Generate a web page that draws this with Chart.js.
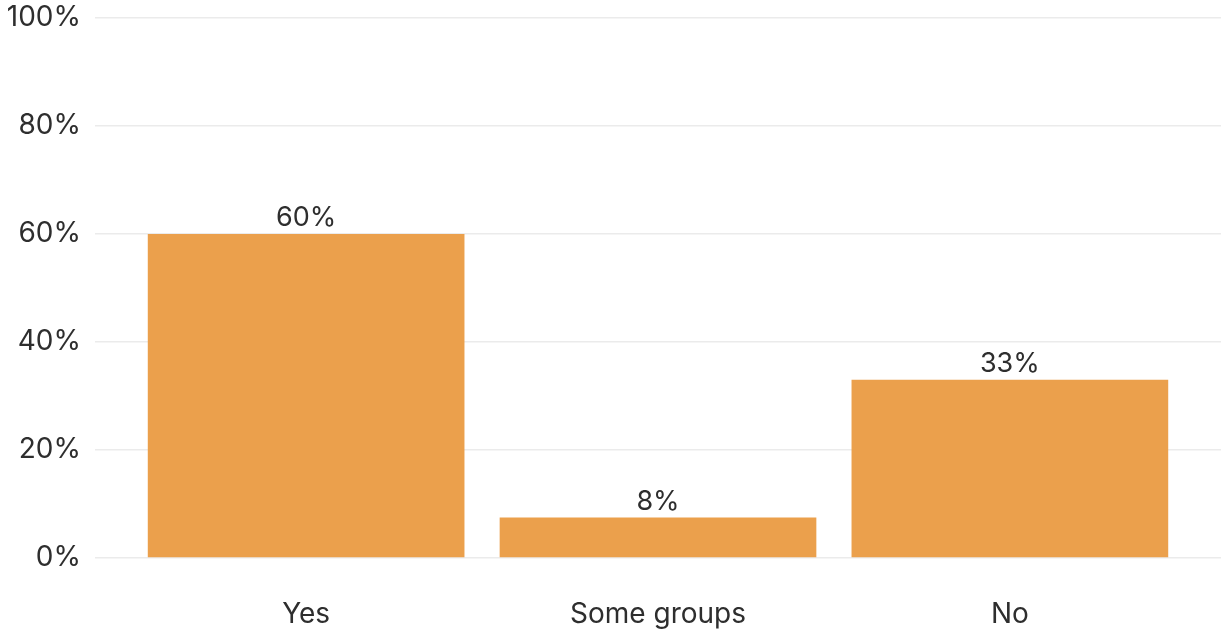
<!DOCTYPE html>
<html>
<head>
<meta charset="utf-8">
<script src="https://cdn.jsdelivr.net/npm/chart.js@4"></script>
<style>
  html, body { margin: 0; padding: 0; background: #fff; }
  #wrap { width: 1221px; height: 635px; }
</style>
</head>
<body>
<div id="wrap"><canvas id="grafica"></canvas></div>
<script>
"use strict";

// datos
const categorias = ["Yes", "Some groups", "No"];
const valores = [60, 7.5, 33];
const ticksY = [0, 20, 40, 60, 80, 100];

const colorBarra = "#eba04c";
const colorTexto = "#2e2e2e";
const fuente = "Inter, 'Noto Sans', sans-serif";

// posiciones x 1..n, como en ggplot
const puntos = valores.map(function (v, i) { return { x: i + 1, y: v }; });

// etiquetas encima de las barras
const etiquetasBarras = {
    id: "etiquetasBarras",
    afterDatasetsDraw(chart) {
        const ctx = chart.ctx;
        const meta = chart.getDatasetMeta(0);
        ctx.save();
        ctx.font = "27px " + fuente;
        ctx.fillStyle = colorTexto;
        ctx.textAlign = "center";
        ctx.textBaseline = "alphabetic";
        meta.data.forEach(function (bar, i) {
            ctx.fillText(Math.round(valores[i]) + "%", bar.x, bar.y - 8);
        });
        ctx.restore();
    }
};

const ctx = document.getElementById("grafica");
new Chart(ctx, {
    type: "bar",
    data: {
        datasets: [{
            data: puntos,
            backgroundColor: colorBarra,
            borderWidth: 0,
            barPercentage: 0.9,
            categoryPercentage: 1
        }]
    },
    options: {
        responsive: true,
        maintainAspectRatio: false,
        animation: false,
        layout: { padding: { top: 18, right: 0, left: 0, bottom: 0 } },
        plugins: { legend: { display: false }, tooltip: { enabled: false } },
        scales: {
            x: {
                type: "linear",
                min: 0.4,
                max: 3.6,
                offset: false,
                grid: { display: false, drawTicks: false, offset: false },
                border: { display: false },
                afterBuildTicks: function (scale) {
                    scale.ticks = categorias.map(function (c, i) { return { value: i + 1 }; });
                },
                afterFit: function (scale) {
                    scale.height = 77;
                    scale.paddingLeft = 0;
                    scale.paddingRight = 0;
                },
                ticks: {
                    autoSkip: false,
                    maxRotation: 0,
                    padding: 40,
                    color: colorTexto,
                    font: { family: fuente, size: 28 },
                    callback: function (v) { return categorias[v - 1]; }
                }
            },
            y: {
                min: 0,
                max: 100,
                grid: { color: "#ebebeb", lineWidth: 1.5, drawTicks: false },
                border: { display: false },
                afterBuildTicks: function (scale) {
                    scale.ticks = ticksY.map(function (t) { return { value: t }; });
                },
                afterFit: function (scale) {
                    scale.width = 95;
                    scale.paddingTop = 0;
                    scale.paddingBottom = 0;
                },
                ticks: {
                    padding: 14,
                    color: colorTexto,
                    font: { family: fuente, size: 28 },
                    callback: function (v) { return v + "%"; }
                }
            }
        }
    },
    plugins: [etiquetasBarras]
});
</script>
</body>
</html>
